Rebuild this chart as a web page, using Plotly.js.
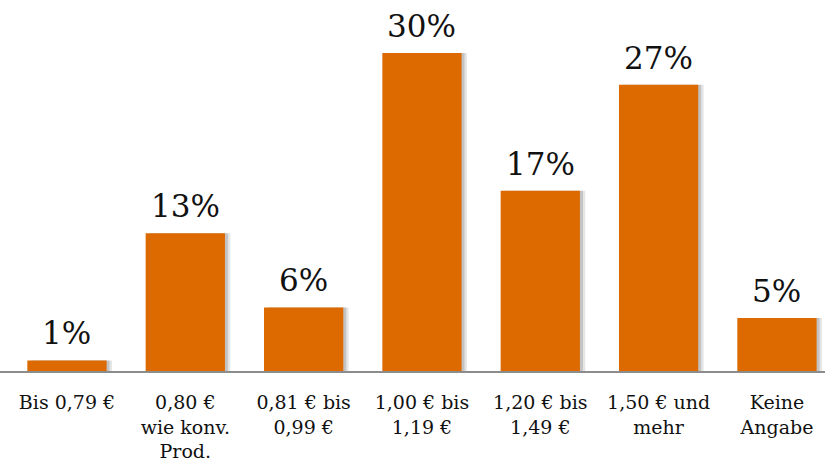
<!DOCTYPE html>
<html>
<head>
<meta charset="utf-8">
<script src="https://cdn.plot.ly/plotly-3.0.1.min.js"></script>
<style>html,body{margin:0;padding:0;background:#fff;}#chart{width:825px;height:464px;}</style>
</head>
<body>
<div id="chart"></div>
<script>
const categories = ["Bis 0,79 €", "0,80 €<br>wie konv.<br>Prod.", "0,81 € bis<br>0,99 €", "1,00 € bis<br>1,19 €", "1,20 € bis<br>1,49 €", "1,50 € und<br>mehr", "Keine<br>Angabe"];
const values = [1, 13, 6, 30, 17, 27, 5];
const valueLabels = ["1%", "13%", "6%", "30%", "17%", "27%", "5%"];

const idx = categories.map((c, i) => i);
const serif = "DejaVu Serif, Georgia, serif";
const bw = 0.67;

const shadow1 = {
  type: "bar", x: idx, y: values, width: bw, offset: -bw/2 + 0.045,
  marker: {color: "rgba(0,0,0,0.10)", line: {width: 0}}, hoverinfo: "skip", showlegend: false
};
const shadow2 = {
  type: "bar", x: idx, y: values, width: bw, offset: -bw/2 + 0.025,
  marker: {color: "rgba(0,0,0,0.15)", line: {width: 0}}, hoverinfo: "skip", showlegend: false
};
const main = {
  type: "bar", x: idx, y: values, width: bw, offset: -bw/2,
  marker: {color: "#DD6A00", line: {width: 0}}, hoverinfo: "skip", showlegend: false
};

const annotations = idx.map(i => ({
  x: i, y: values[i], xref: "x", yref: "y", text: valueLabels[i],
  showarrow: false, yanchor: "bottom", yshift: 7,
  font: {family: serif, size: 31, color: "#111"}
}));

const layout = {
  width: 825, height: 464,
  margin: {l: 0, r: 0, t: 0, b: 93, pad: 0},
  paper_bgcolor: "#fff", plot_bgcolor: "#fff",
  barmode: "overlay",
  xaxis: {
    range: [-0.566, 6.406], tickvals: idx, ticktext: categories,
    showgrid: false, zeroline: false, showline: true, linecolor: "#8c8c8c", linewidth: 2,
    ticks: "", ticklabelstandoff: 13,
    tickfont: {family: serif, size: 19, color: "#111"}, fixedrange: true
  },
  yaxis: {range: [0, 35], visible: false, showgrid: false, zeroline: false, fixedrange: true},
  annotations: annotations,
  showlegend: false
};

Plotly.newPlot("chart", [shadow1, shadow2, main], layout, {staticPlot: true, displayModeBar: false});
</script>
</body>
</html>
